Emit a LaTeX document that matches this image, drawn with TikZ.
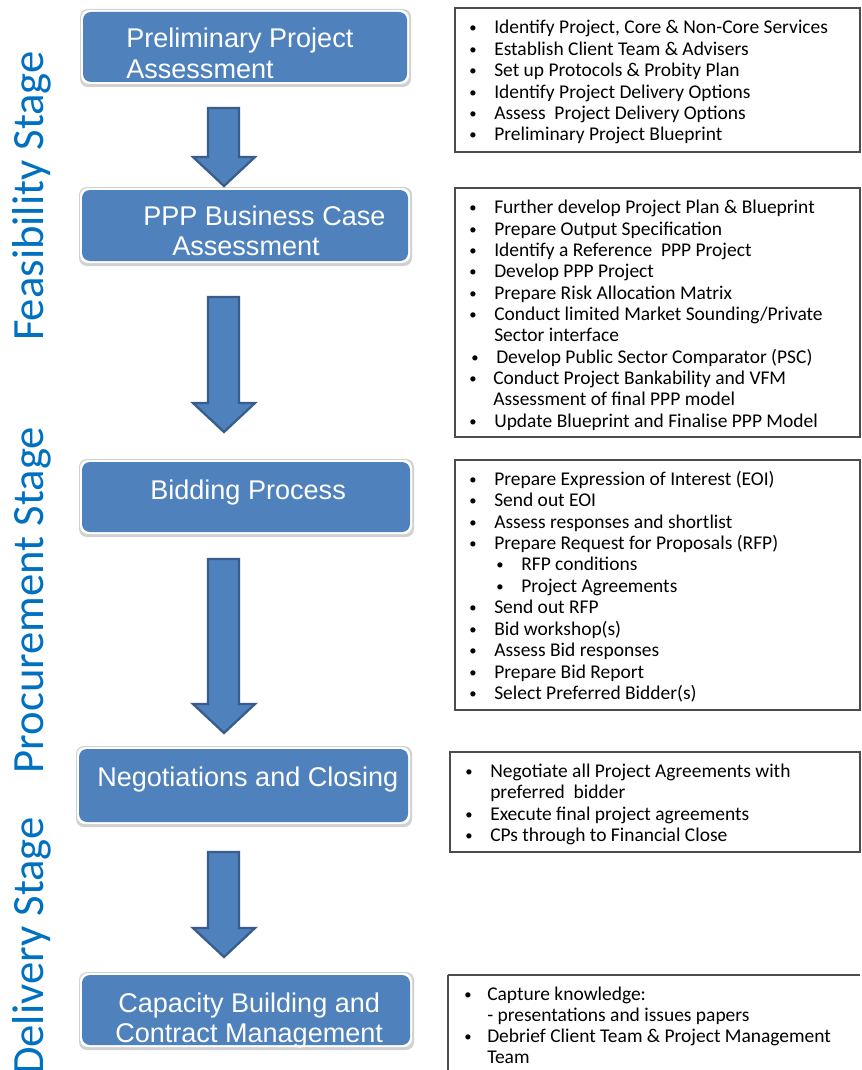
\documentclass[tikz,border=0pt]{standalone}
\usepackage{fontspec}
\setmainfont{Carlito}
\newfontfamily\arialf{Liberation Sans}
\definecolor{boxblue}{HTML}{4F81BD}
\definecolor{arrowedge}{HTML}{385D8A}
\definecolor{stageblue}{HTML}{0070C0}
\newcounter{lnc}
\newcommand\bul[2]{\stepcounter{lnc}\node[bull,anchor=base west] (u\arabic{lnc}) at (#1,{#2+2}) {•};}
\newcommand\txt[3]{\stepcounter{lnc}\node[itm,anchor=base west] (t\arabic{lnc}) at (#1,{#2+3}) {#3};}
\newcommand\btxt[3]{\stepcounter{lnc}\node[btext,anchor=base west] (w\arabic{lnc}) at (#1,{#2+2}) {#3};}
\newcommand\bbox[5]{%
  \fill[black!18,rounded corners=6pt] (#2-3,#3-3) rectangle (#4+4,#5+5);
  \fill[white,rounded corners=6pt] (#2-2,#3-2) rectangle (#4+2,#5+2);
  \path[fill=boxblue,rounded corners=6pt] (#2,#3) rectangle (#4,#5);
  \coordinate (#1) at ({(#2+#4)/2},{(#3+#5)/2});}
\newcommand\darrow[2]{%
  \draw[blockarrow] (208,#1) -- (239,#1) -- (239,{#2-29}) -- (255,{#2-29}) -- (224,#2) -- (193,{#2-29}) -- (208,{#2-29}) -- cycle;}
\begin{document}
\begin{tikzpicture}[x=0.75pt,y=-0.75pt,
  itm/.style={inner sep=0pt,font=\fontsize{14.6pt}{16pt}\selectfont},
  bull/.style={inner sep=0pt,font=\fontsize{11pt}{12pt}\selectfont},
  btext/.style={inner sep=0pt,text=white,font=\arialf\fontsize{20.3pt}{24pt}\selectfont},
  listbox/.style={draw=black!70,line width=0.8pt},
  blockarrow/.style={fill=boxblue,draw=arrowedge,line width=1.7pt,line join=miter},
  stage/.style={inner sep=0pt,text=stageblue,font=\fontsize{33.5pt}{40pt}\selectfont,rotate=90,anchor=base}]
\useasboundingbox (0,0) rectangle (861,1070);
\fill[white] (0,0) rectangle (861,1070);

% stage labels
\node[stage] (s1) at (43,196) {Feasibility Stage};
\node[stage] (s2) at (43,600) {Procurement Stage};
\node[stage] (s3) at (43,946) {Delivery Stage};

% blue boxes
\bbox{b1}{83}{12}{407}{82}
\btxt{126}{46}{Preliminary Project}
\btxt{126}{77}{Assessment}
\bbox{b2}{82}{190}{408}{261}
\btxt{143}{223}{PPP Business Case}
\btxt{172}{253}{Assessment}
\bbox{b3}{82}{462}{410}{532}
\btxt{150}{497}{Bidding Process}
\bbox{b4}{79}{749}{408}{822}
\btxt{97}{784}{Negotiations and Closing}
\bbox{b5}{82}{975}{410}{1045}
\btxt{118}{1010}{Capacity Building and}
\btxt{115}{1040}{Contract Management}

% arrows
\darrow{108}{186}
\darrow{297}{432}
\darrow{559}{733}
\darrow{852}{957}

% list boxes
\draw[listbox] (455,8) rectangle (860,152);
\draw[listbox] (455,188) rectangle (860,437);
\draw[listbox] (455,460) rectangle (860,710);
\draw[listbox] (450,752) rectangle (860,852);
\draw[listbox] (448,975) -- (860,975) (448,975) -- (448,1075);

% list 1
\bul{469}{31}\txt{494}{31}{Identify Project, Core \& Non-Core Services}
\bul{469}{53}\txt{494}{53}{Establish Client Team \& Advisers}
\bul{469}{74}\txt{494}{74}{Set up Protocols \& Probity Plan}
\bul{469}{96}\txt{494}{96}{Identify Project Delivery Options}
\bul{469}{117}\txt{494}{117}{Assess\ \ Project Delivery Options}
\bul{469}{138}\txt{494}{138}{Preliminary Project Blueprint}

% list 2
\bul{469}{210}\txt{494}{210}{Further develop Project Plan \& Blueprint}
\bul{469}{232}\txt{494}{232}{Prepare Output Specification}
\bul{469}{253}\txt{494}{253}{Identify a Reference\ \ PPP Project}
\bul{469}{274}\txt{494}{274}{Develop PPP Project}
\bul{469}{296}\txt{494}{296}{Prepare Risk Allocation Matrix}
\bul{469}{317}\txt{494}{317}{Conduct limited Market Sounding/Private}
\txt{494}{338}{Sector interface}
\bul{471}{360}\txt{496}{360}{Develop Public Sector Comparator (PSC)}
\bul{469}{381}\txt{493}{381}{Conduct Project Bankability and VFM}
\txt{493}{402}{Assessment of final PPP model}
\bul{469}{424}\txt{494}{424}{Update Blueprint and Finalise PPP Model}

% list 3
\bul{469}{482}\txt{494}{482}{Prepare Expression of Interest (EOI)}
\bul{469}{503}\txt{494}{503}{Send out EOI}
\bul{469}{525}\txt{494}{525}{Assess responses and shortlist}
\bul{469}{546}\txt{494}{546}{Prepare Request for Proposals (RFP)}
\bul{496}{567}\txt{521}{567}{RFP conditions}
\bul{496}{589}\txt{521}{589}{Project Agreements}
\bul{469}{610}\txt{494}{610}{Send out RFP}
\bul{469}{632}\txt{494}{632}{Bid workshop(s)}
\bul{469}{653}\txt{494}{653}{Assess Bid responses}
\bul{469}{675}\txt{494}{675}{Prepare Bid Report}
\bul{469}{696}\txt{494}{696}{Select Preferred Bidder(s)}

% list 4
\bul{465}{774}\txt{490}{774}{Negotiate all Project Agreements with}
\txt{490}{795}{preferred\ \ bidder}
\bul{465}{817}\txt{490}{817}{Execute final project agreements}
\bul{465}{838}\txt{490}{838}{CPs through to Financial Close}

% list 5
\bul{464}{997}\txt{487}{997}{Capture knowledge:}
\txt{487}{1018}{- presentations and issues papers}
\bul{464}{1039}\txt{487}{1039}{Debrief Client Team \& Project Management}
\txt{487}{1060}{Team}
\end{tikzpicture}
\end{document}
